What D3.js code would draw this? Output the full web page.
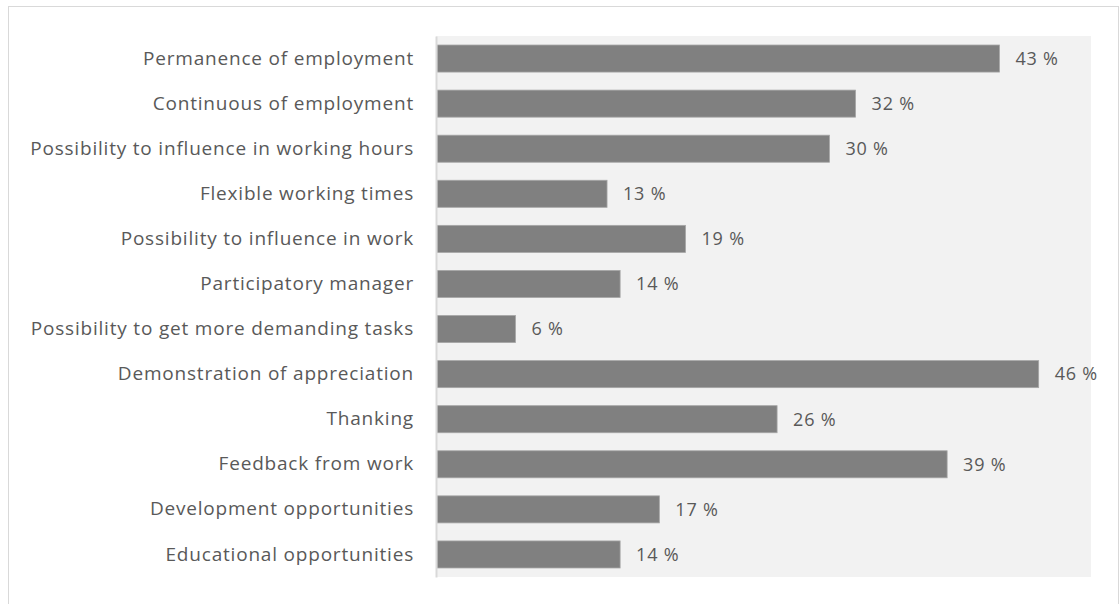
<!DOCTYPE html>
<html>
<head>
<meta charset="utf-8">
<script src="https://cdn.jsdelivr.net/npm/d3@7"></script>
<style>
  body { margin: 0; background: #fff; }
  svg { display: block; }
  text { font-family: "Open Sans", Lato, sans-serif; fill: #595959; letter-spacing: 0.8px; }
</style>
</head>
<body>
<div id="chart"></div>
<script>
// categories top to bottom
const categories = [
    "Permanence of employment",
    "Continuous of employment",
    "Possibility to influence in working hours",
    "Flexible working times",
    "Possibility to influence in work",
    "Participatory manager",
    "Possibility to get more demanding tasks",
    "Demonstration of appreciation",
    "Thanking",
    "Feedback from work",
    "Development opportunities",
    "Educational opportunities"
]
const values = [43, 32, 30, 13, 19, 14, 6, 46, 26, 39, 17, 14]

const width = 1120, height = 604
const plot = { left: 436, top: 36, right: 1091, bottom: 577 }

const svg = d3.select("#chart")
    .append("svg")
    .attr("width", width)
    .attr("height", height)

// outer frame (bottom edge falls outside the picture)
svg.append("rect")
    .attr("x", 8.5).attr("y", 6.5)
    .attr("width", 1110).attr("height", 620)
    .attr("fill", "#fff")
    .attr("stroke", "#d9d9d9")

// plot area
svg.append("rect")
    .attr("x", plot.left).attr("y", plot.top)
    .attr("width", plot.right - plot.left)
    .attr("height", plot.bottom - plot.top)
    .attr("fill", "#f2f2f2")

const x = d3.scaleLinear().domain([0, 50]).range([plot.left + 1, plot.right])
const y = d3.scaleBand().domain(categories).range([plot.top, plot.bottom]).paddingInner(0.4).paddingOuter(0.2)

svg.selectAll("rect.bar")
    .data(values)
    .join("rect")
    .attr("class", "bar")
    .attr("x", x(0))
    .attr("y", (d, i) => y(categories[i]))
    .attr("width", d => x(d) - x(0))
    .attr("height", y.bandwidth())
    .attr("fill", "#808080")
    .attr("stroke", "#a6a6a6")
    .attr("stroke-width", 0.8)

// value labels
svg.selectAll("text.val")
    .data(values)
    .join("text")
    .attr("class", "val")
    .attr("x", d => x(d) + 16)
    .attr("y", (d, i) => y(categories[i]) + y.bandwidth() / 2)
    .attr("dy", "0.35em")
    .style("font-size", "18px")
    .text(d => d + " %")

// category axis
const axis = svg.append("g")
    .attr("transform", `translate(${plot.left},0)`)
    .call(d3.axisLeft(y).tickSize(0).tickPadding(22))
axis.select(".domain").attr("stroke", "#d9d9d9").attr("stroke-width", 2)
axis.selectAll("text")
    .style("font-size", "19px")
    .style("font-family", "'Open Sans', Lato, sans-serif")
    .attr("fill", "#595959")
</script>
</body>
</html>
